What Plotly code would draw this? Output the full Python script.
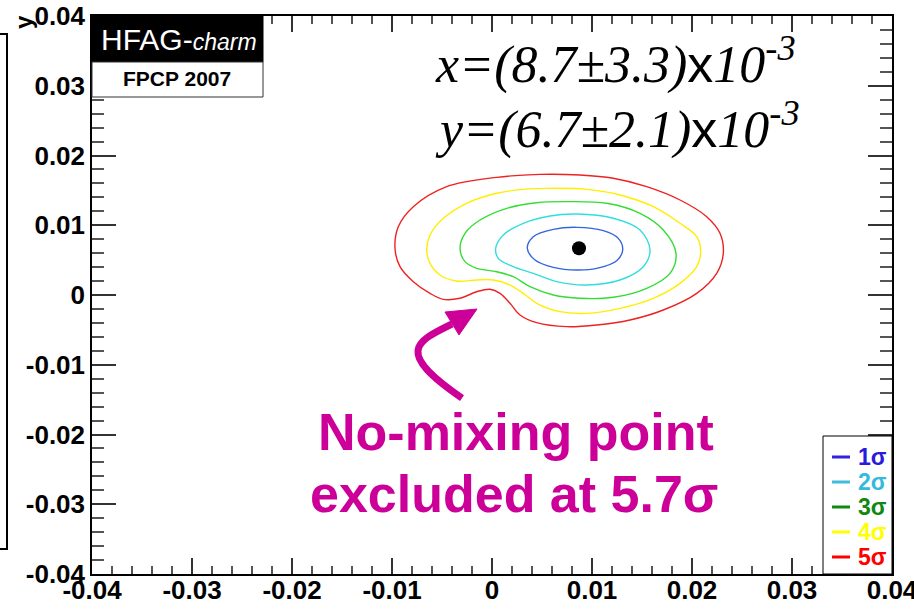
import plotly.graph_objects as go

# ---------------- data ----------------
LEVELS = ["1σ", "2σ", "3σ", "4σ", "5σ"]
LINE_COLORS = ["#3366DD", "#33DDDD", "#33DD33", "#FFEE00", "#EE2222"]
LEGEND_LINE_COLORS = ["#3322DD", "#44BBDD", "#118811", "#FFFF00", "#FF0000"]
LEGEND_TEXT_COLORS = ["#2B1BD8", "#33BBDD", "#118811", "#FFFF00", "#FF0000"]

C1_X = [0.00847, 0.01113, 0.01263, 0.01307, 0.01247, 0.01047, 0.00847, 0.00613, 0.00430, 0.00353, 0.00413, 0.00613]
C1_Y = [0.00970, 0.00922, 0.00812, 0.00645, 0.00492, 0.00382, 0.00358, 0.00397, 0.00502, 0.00670, 0.00836, 0.00941]

C2_X = [0.00847, 0.01213, 0.01480, 0.01580, 0.01513, 0.01280, 0.00947, 0.00647, 0.00413, 0.00213, 0.00063, 0.00037, 0.00113, 0.00313, 0.00580]
C2_Y = [0.01161, 0.01100, 0.00932, 0.00645, 0.00406, 0.00215, 0.00143, 0.00191, 0.00311, 0.00406, 0.00526, 0.00670, 0.00860, 0.01028, 0.01133]

C3_X = [0.00747, 0.01147, 0.01480, 0.01713, 0.01840, 0.01780, 0.01547, 0.01213, 0.00880, 0.00613, 0.00380, 0.00213, 0.00047, -0.00153, -0.00270, -0.00320, -0.00270, -0.00120, 0.00147, 0.00447]
C3_Y = [0.01338, 0.01315, 0.01171, 0.00932, 0.00597, 0.00311, 0.00096, -0.00033, -0.00047, 0.00000, 0.00119, 0.00263, 0.00334, 0.00382, 0.00478, 0.00670, 0.00884, 0.01075, 0.01243, 0.01323]

C4_X = [0.00547, 0.00947, 0.01280, 0.01613, 0.01880, 0.02047, 0.02087, 0.02047, 0.01880, 0.01613, 0.01280, 0.00947, 0.00680, 0.00447, 0.00313, 0.00180, 0.00013, -0.00153, -0.00353, -0.00520, -0.00620, -0.00653, -0.00620, -0.00487, -0.00253, 0.00047, 0.00313]
C4_Y = [0.01529, 0.01515, 0.01434, 0.01266, 0.01028, 0.00836, 0.00621, 0.00406, 0.00167, -0.00047, -0.00191, -0.00263, -0.00239, -0.00119, 0.00024, 0.00143, 0.00215, 0.00215, 0.00201, 0.00287, 0.00454, 0.00645, 0.00860, 0.01100, 0.01315, 0.01458, 0.01515]

C5_X = [0.00480, 0.00880, 0.01213, 0.01547, 0.01880, 0.02147, 0.02280, 0.02313, 0.02247, 0.02047, 0.01713, 0.01380, 0.01047, 0.00747, 0.00447, 0.00280, 0.00180, 0.00080, -0.00020, -0.00153, -0.00320, -0.00487, -0.00620, -0.00787, -0.00920, -0.00970, -0.00937, -0.00787, -0.00453, 0.00047]
C5_Y = [0.01730, 0.01720, 0.01673, 0.01553, 0.01362, 0.01123, 0.00884, 0.00597, 0.00311, 0.00024, -0.00215, -0.00358, -0.00430, -0.00454, -0.00397, -0.00287, -0.00119, 0.00024, 0.00082, 0.00047, -0.00047, -0.00062, 0.00024, 0.00191, 0.00406, 0.00670, 0.00979, 0.01266, 0.01553, 0.01687]

CONTOURS_X = [C1_X, C2_X, C3_X, C4_X, C5_X]
CONTOURS_Y = [C1_Y, C2_Y, C3_Y, C4_Y, C5_Y]

BEST_X = [0.0087]
BEST_Y = [0.0067]

TICK_VALS = [-0.04, -0.03, -0.02, -0.01, 0.0, 0.01, 0.02, 0.03, 0.04]
TICK_LABELS = ["-0.04", "-0.03", "-0.02", "-0.01", "0", "0.01", "0.02", "0.03", "0.04"]

# ---------------- layout helpers ----------------
W, H = 914, 616
L, R, T, B = 92, 892, 16, 574
def px(x):
    return (x - L) / (R - L)
def py(y):
    return (B - y) / (B - T)

MAGENTA = "#CC0099"
SANS = "Liberation Sans"
SERIF = "Liberation Serif"

fig = go.Figure()
for cx, cy, col, name in zip(CONTOURS_X, CONTOURS_Y, LINE_COLORS, LEVELS):
    fig.add_trace(go.Scatter(x=cx + cx[:1], y=cy + cy[:1], mode="lines",
                             line=dict(color=col, width=1.4, shape="spline", smoothing=1.0),
                             name=name, showlegend=False, hoverinfo="skip"))
fig.add_trace(go.Scatter(x=BEST_X, y=BEST_Y, mode="markers",
                         marker=dict(color="black", size=14), showlegend=False))

axis_common = dict(range=[-0.04, 0.04], showgrid=False, zeroline=False, automargin=False,
                   showline=True, linecolor="black", linewidth=1.5, mirror="ticks",
                   ticks="inside", tickwidth=1.5, tickcolor="#333",
                   tickmode="array", tickvals=TICK_VALS, ticktext=TICK_LABELS,
                   ticklabeloverflow="allow",
                   tickfont=dict(family=SANS, size=26, color="black", weight="bold"))
fig.update_xaxes(**axis_common, ticklen=16, ticklabelstandoff=-8,
                 minor=dict(ticks="inside", ticklen=8, dtick=0.002, tick0=0, tickwidth=1.5, tickcolor="#555"))
fig.update_yaxes(**axis_common, ticklen=24,
                 minor=dict(ticks="inside", ticklen=12, dtick=0.002, tick0=0, tickwidth=1.5, tickcolor="#555"))

shapes = []
annotations = []

# partial frame at left edge
shapes.append(dict(type="rect", xref="paper", yref="paper", x0=px(-2), x1=px(7), y0=py(549), y1=py(34),
                   line=dict(color="black", width=2), fillcolor="rgba(0,0,0,0)"))

# HFAG label boxes
shapes.append(dict(type="rect", xref="paper", yref="paper", x0=px(92), x1=px(263), y0=py(62), y1=py(16),
                   line=dict(color="black", width=1), fillcolor="black", layer="above"))
shapes.append(dict(type="rect", xref="paper", yref="paper", x0=px(92), x1=px(263), y0=py(97), y1=py(62),
                   line=dict(color="#333", width=1), fillcolor="white", layer="above"))
annotations.append(dict(xref="paper", yref="paper", x=px(179), y=py(40), xanchor="center", yanchor="middle",
                        showarrow=False, text="HFAG-<i><span style='font-size:23px'>charm</span></i>",
                        font=dict(family=SANS, size=30, color="white")))
annotations.append(dict(xref="paper", yref="paper", x=px(177), y=py(78), xanchor="center", yanchor="middle",
                        showarrow=False, text="<b>FPCP 2007</b>",
                        font=dict(family=SANS, size=21, color="black")))

# formula text
xs = "<span style='font-family:Liberation Sans;font-style:normal'>x</span>"
annotations.append(dict(xref="paper", yref="paper", x=px(433), y=py(61), xanchor="left", yanchor="middle",
                        showarrow=False, text="<i>x=(8.7±3.3)</i>" + xs + "<i>10<sup>-3</sup></i>",
                        font=dict(family=SERIF, size=52, color="black")))
annotations.append(dict(xref="paper", yref="paper", x=px(433), y=py(126), xanchor="left", yanchor="middle",
                        showarrow=False, text="<i>y=(6.7±2.1)</i>" + xs + "<i>10<sup>-3</sup></i>",
                        font=dict(family=SERIF, size=52, color="black")))

# magenta text
annotations.append(dict(xref="paper", yref="paper", x=px(516), y=py(432), xanchor="center", yanchor="middle",
                        showarrow=False, text="<b>No-mixing point</b>",
                        font=dict(family=SANS, size=52, color=MAGENTA)))
annotations.append(dict(xref="paper", yref="paper", x=px(514), y=py(494), xanchor="center", yanchor="middle",
                        showarrow=False, text="<b>excluded at 5.7σ</b>",
                        font=dict(family=SANS, size=52, color=MAGENTA)))

# curved arrow (data coordinates)
shapes.append(dict(type="path", xref="x", yref="y",
                   path="M -0.0030,-0.01477 C -0.0097,-0.00817 -0.0077,-0.00674 -0.0040,-0.00416",
                   line=dict(color=MAGENTA, width=7), fillcolor="rgba(0,0,0,0)"))
shapes.append(dict(type="path", xref="x", yref="y",
                   path="M -0.0047,-0.00244 L -0.0015,-0.00201 L -0.0033,-0.00573 Z",
                   line=dict(color=MAGENTA, width=1), fillcolor=MAGENTA))

# legend box
shapes.append(dict(type="rect", xref="paper", yref="paper", x0=px(823), x1=px(892), y0=py(574), y1=py(436),
                   line=dict(color="black", width=1), fillcolor="white", layer="above"))
ys = [457, 482, 507, 532, 557]
for lab, lc, tc, yy in zip(LEVELS, LEGEND_LINE_COLORS, LEGEND_TEXT_COLORS, ys):
    shapes.append(dict(type="line", xref="paper", yref="paper", x0=px(832), x1=px(850), y0=py(yy), y1=py(yy),
                       line=dict(color=lc, width=3), layer="above"))
    annotations.append(dict(xref="paper", yref="paper", x=px(856), y=py(yy), xanchor="left", yanchor="middle",
                            showarrow=False, text="<b>" + lab + "</b>",
                            font=dict(family=SANS, size=23, color=tc)))

# axis titles
annotations.append(dict(xref="paper", yref="paper", x=px(24), y=py(22), xanchor="center", yanchor="middle",
                        showarrow=False, text="<b>y</b>", textangle=-90,
                        font=dict(family=SANS, size=24, color="black")))
annotations.append(dict(xref="paper", yref="paper", x=px(880), y=py(608), xanchor="center", yanchor="top",
                        showarrow=False, text="<b>x</b>",
                        font=dict(family=SANS, size=24, color="black")))

fig.update_layout(width=W, height=H, margin=dict(l=L, r=W - R, t=T, b=H - B, pad=0),
                  plot_bgcolor="white", paper_bgcolor="white", showlegend=False,
                  shapes=shapes, annotations=annotations)

fig.write_html("out.html")
